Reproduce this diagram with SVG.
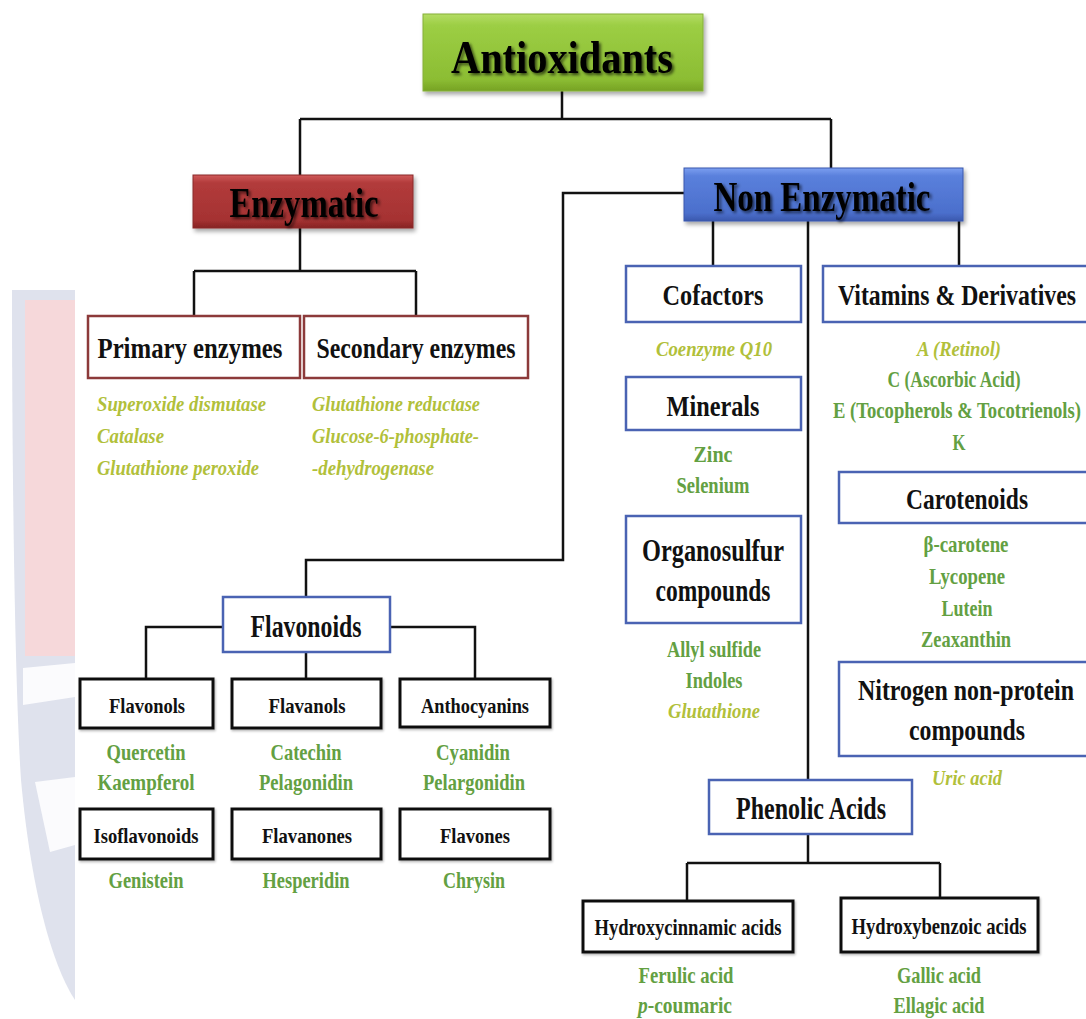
<svg xmlns="http://www.w3.org/2000/svg" width="1086" height="1019" viewBox="0 0 1086 1019">
<defs>
<linearGradient id="gGreen" x1="0" y1="0" x2="0" y2="1"><stop offset="0" stop-color="#b4dc64"/><stop offset="0.15" stop-color="#9cce44"/><stop offset="0.85" stop-color="#8cbd33"/><stop offset="1" stop-color="#76a224"/></linearGradient>
<linearGradient id="gRed" x1="0" y1="0" x2="0" y2="1"><stop offset="0" stop-color="#d05a5a"/><stop offset="0.15" stop-color="#b23b3b"/><stop offset="0.85" stop-color="#a53232"/><stop offset="1" stop-color="#862424"/></linearGradient>
<linearGradient id="gBlue" x1="0" y1="0" x2="0" y2="1"><stop offset="0" stop-color="#7c9ff0"/><stop offset="0.15" stop-color="#5a80dc"/><stop offset="0.85" stop-color="#4b6fcc"/><stop offset="1" stop-color="#3a58ad"/></linearGradient>
<filter id="bs" x="-10%" y="-20%" width="125%" height="150%"><feDropShadow dx="2" dy="3" stdDeviation="2" flood-color="#000" flood-opacity="0.35"/></filter>
<filter id="ts" x="-10%" y="-20%" width="125%" height="150%"><feDropShadow dx="2" dy="2" stdDeviation="1.8" flood-color="#000" flood-opacity="0.65"/></filter>
<filter id="ls" x="-10%" y="-20%" width="125%" height="150%"><feDropShadow dx="1" dy="1.5" stdDeviation="1" flood-color="#000" flood-opacity="0.3"/></filter>
<style>
text{font-family:"Liberation Serif","Times New Roman",serif;font-weight:bold;}
.hdr{fill:#000;filter:url(#ts);}
.lbl{fill:#111;}
.grn{fill:#63a042;font-size:23px;}
.yel{fill:#b1c03a;font-size:22px;font-style:italic;}
.bb{fill:#fff;stroke:#4a63b3;stroke-width:2.5;}
.rb{fill:#fff;stroke:#8c3a3a;stroke-width:2.5;}
.kb{fill:#fff;stroke:#111;stroke-width:3;filter:url(#ls);}
.con{fill:none;stroke:#111;stroke-width:2.5;}
</style>
</defs>
<rect width="1086" height="1019" fill="#fff"/>
<g id="watermark">
<path d="M12,290 H75 V1000 C55,970 32,900 21,780 C15,690 12,480 12,290 Z" fill="#dfe2ed"/>
<rect x="25" y="300" width="50" height="356" fill="#f6d8da"/>
<polygon points="23,668 75,663 75,697 23,705" fill="#fbfbfd"/>
<polygon points="35,782 75,777 75,845 50,852" fill="#fbfbfd"/>
</g>
<g id="connectors">
<path class="con" d="M562,91 V119 M300,119 H831 M300,119 V175 M831,119 V168" stroke-width="3"/>
<path class="con" d="M300,228 V271 M194,271 H416 M194,271 V316 M416,271 V316"/>
<path class="con" d="M684,193 H563 V560 H306 V597"/>
<path class="con" d="M713,221 V266 M808,221 V780 M959,221 V268"/>
<path class="con" d="M223,627 H146 V679 M390,627 H475 V679 M306,652 V679"/>
<path class="con" d="M808,834 V863 M687,863 H940 M687,863 V901 M940,863 V898"/>
</g>
<g id="antioxidants">
<rect x="423" y="14" width="280" height="77" fill="url(#gGreen)" stroke="#86b03a" stroke-width="1" filter="url(#bs)"/>
<text class="hdr" x="562" y="73" font-size="47" text-anchor="middle" textLength="222" lengthAdjust="spacingAndGlyphs">Antioxidants</text>
</g>
<g id="enzymatic">
<rect x="193" y="175" width="220" height="53" fill="url(#gRed)" stroke="#8a2a2a" stroke-width="1" filter="url(#bs)"/>
<text class="hdr" x="304" y="217" font-size="43" text-anchor="middle" textLength="149" lengthAdjust="spacingAndGlyphs">Enzymatic</text>
</g>
<g id="non-enzymatic">
<rect x="684" y="168" width="279" height="53" fill="url(#gBlue)" stroke="#3a58ad" stroke-width="1" filter="url(#bs)"/>
<text class="hdr" x="822" y="211" font-size="43" text-anchor="middle" textLength="217" lengthAdjust="spacingAndGlyphs">Non Enzymatic</text>
</g>
<g id="primary-enzymes">
<rect class="rb" x="88" y="316" width="212" height="62"/>
<text class="lbl" x="190" y="358" font-size="29" text-anchor="middle" textLength="185" lengthAdjust="spacingAndGlyphs">Primary enzymes</text>
<text class="yel" x="97" y="411" textLength="169" lengthAdjust="spacingAndGlyphs">Superoxide dismutase</text>
<text class="yel" x="97" y="443" textLength="67" lengthAdjust="spacingAndGlyphs">Catalase</text>
<text class="yel" x="97" y="475" textLength="162" lengthAdjust="spacingAndGlyphs">Glutathione peroxide</text>
</g>
<g id="secondary-enzymes">
<rect class="rb" x="304" y="316" width="224" height="62"/>
<text class="lbl" x="416" y="358" font-size="29" text-anchor="middle" textLength="199" lengthAdjust="spacingAndGlyphs">Secondary enzymes</text>
<text class="yel" x="312" y="411" textLength="168" lengthAdjust="spacingAndGlyphs">Glutathione reductase</text>
<text class="yel" x="312" y="443" textLength="167" lengthAdjust="spacingAndGlyphs">Glucose-6-phosphate-</text>
<text class="yel" x="312" y="475" textLength="122" lengthAdjust="spacingAndGlyphs">-dehydrogenase</text>
</g>
<g id="cofactors">
<rect class="bb" x="626" y="266" width="175" height="56"/>
<text class="lbl" x="713" y="305" font-size="30" text-anchor="middle" textLength="101" lengthAdjust="spacingAndGlyphs">Cofactors</text>
<text class="yel" x="714" y="356" text-anchor="middle" textLength="116" lengthAdjust="spacingAndGlyphs">Coenzyme Q10</text>
</g>
<g id="minerals">
<rect class="bb" x="626" y="377" width="175" height="53"/>
<text class="lbl" x="713" y="416" font-size="30" text-anchor="middle" textLength="93" lengthAdjust="spacingAndGlyphs">Minerals</text>
<text class="grn" x="713" y="462" text-anchor="middle" textLength="39" lengthAdjust="spacingAndGlyphs">Zinc</text>
<text class="grn" x="713" y="493" text-anchor="middle" textLength="73" lengthAdjust="spacingAndGlyphs">Selenium</text>
</g>
<g id="organosulfur">
<rect class="bb" x="626" y="516" width="175" height="107"/>
<text class="lbl" x="713" y="561" font-size="32" text-anchor="middle" textLength="142" lengthAdjust="spacingAndGlyphs">Organosulfur</text>
<text class="lbl" x="713" y="601" font-size="32" text-anchor="middle" textLength="115" lengthAdjust="spacingAndGlyphs">compounds</text>
<text class="grn" x="714" y="657" text-anchor="middle" textLength="94" lengthAdjust="spacingAndGlyphs">Allyl sulfide</text>
<text class="grn" x="714" y="688" text-anchor="middle" textLength="57" lengthAdjust="spacingAndGlyphs">Indoles</text>
<text class="yel" x="714" y="718" text-anchor="middle" textLength="92" lengthAdjust="spacingAndGlyphs">Glutathione</text>
</g>
<g id="vitamins">
<rect class="bb" x="823" y="266" width="270" height="56"/>
<text class="lbl" x="957" y="305" font-size="30" text-anchor="middle" textLength="238" lengthAdjust="spacingAndGlyphs">Vitamins &amp; Derivatives</text>
<text class="yel" x="959" y="356" text-anchor="middle" textLength="84" lengthAdjust="spacingAndGlyphs">A (Retinol)</text>
<text class="grn" x="954" y="387" text-anchor="middle" textLength="133" lengthAdjust="spacingAndGlyphs">C (Ascorbic Acid)</text>
<text class="grn" x="957" y="418" text-anchor="middle" textLength="248" lengthAdjust="spacingAndGlyphs">E (Tocopherols &amp; Tocotrienols)</text>
<text class="grn" x="959" y="450" text-anchor="middle" textLength="13" lengthAdjust="spacingAndGlyphs">K</text>
</g>
<g id="carotenoids">
<rect class="bb" x="839" y="472" width="254" height="51"/>
<text class="lbl" x="967" y="509" font-size="30" text-anchor="middle" textLength="122" lengthAdjust="spacingAndGlyphs">Carotenoids</text>
<text class="grn" x="966" y="552" text-anchor="middle" textLength="85" lengthAdjust="spacingAndGlyphs">β-carotene</text>
<text class="grn" x="967" y="584" text-anchor="middle" textLength="76" lengthAdjust="spacingAndGlyphs">Lycopene</text>
<text class="grn" x="967" y="616" text-anchor="middle" textLength="51" lengthAdjust="spacingAndGlyphs">Lutein</text>
<text class="grn" x="966" y="647" text-anchor="middle" textLength="90" lengthAdjust="spacingAndGlyphs">Zeaxanthin</text>
</g>
<g id="nitrogen">
<rect class="bb" x="839" y="662" width="254" height="94"/>
<text class="lbl" x="966" y="700" font-size="30" text-anchor="middle" textLength="216" lengthAdjust="spacingAndGlyphs">Nitrogen non-protein</text>
<text class="lbl" x="967" y="740" font-size="30" text-anchor="middle" textLength="116" lengthAdjust="spacingAndGlyphs">compounds</text>
<text class="yel" x="967" y="785" text-anchor="middle" textLength="70" lengthAdjust="spacingAndGlyphs">Uric acid</text>
</g>
<g id="phenolic-acids">
<rect class="bb" x="709" y="780" width="203" height="54"/>
<text class="lbl" x="811" y="819" font-size="31" text-anchor="middle" textLength="150" lengthAdjust="spacingAndGlyphs">Phenolic Acids</text>
</g>
<g id="hydroxycinnamic">
<rect class="kb" x="583" y="901" width="210" height="51"/>
<text class="lbl" x="688" y="935" font-size="23" text-anchor="middle" textLength="187" lengthAdjust="spacingAndGlyphs">Hydroxycinnamic acids</text>
<text class="grn" x="686" y="983" text-anchor="middle" textLength="95" lengthAdjust="spacingAndGlyphs">Ferulic acid</text>
<text class="grn" x="685" y="1013" text-anchor="middle" textLength="94" lengthAdjust="spacingAndGlyphs"><tspan font-style="italic">p</tspan>-coumaric</text>
</g>
<g id="hydroxybenzoic">
<rect class="kb" x="841" y="898" width="197" height="54"/>
<text class="lbl" x="939" y="934" font-size="23" text-anchor="middle" textLength="175" lengthAdjust="spacingAndGlyphs">Hydroxybenzoic acids</text>
<text class="grn" x="939" y="983" text-anchor="middle" textLength="84" lengthAdjust="spacingAndGlyphs">Gallic acid</text>
<text class="grn" x="939" y="1013" text-anchor="middle" textLength="91" lengthAdjust="spacingAndGlyphs">Ellagic acid</text>
</g>
<g id="flavonoids">
<rect class="bb" x="223" y="597" width="167" height="55"/>
<text class="lbl" x="306" y="637" font-size="32" text-anchor="middle" textLength="111" lengthAdjust="spacingAndGlyphs">Flavonoids</text>
</g>
<g id="flavonols">
<rect class="kb" x="80" y="679" width="133" height="49"/>
<text class="lbl" x="147" y="713" font-size="22" text-anchor="middle" textLength="76" lengthAdjust="spacingAndGlyphs">Flavonols</text>
<text class="grn" x="146" y="760" text-anchor="middle" textLength="79" lengthAdjust="spacingAndGlyphs">Quercetin</text>
<text class="grn" x="146" y="790" text-anchor="middle" textLength="97" lengthAdjust="spacingAndGlyphs">Kaempferol</text>
</g>
<g id="flavanols">
<rect class="kb" x="232" y="679" width="149" height="49"/>
<text class="lbl" x="307" y="713" font-size="22" text-anchor="middle" textLength="77" lengthAdjust="spacingAndGlyphs">Flavanols</text>
<text class="grn" x="306" y="760" text-anchor="middle" textLength="71" lengthAdjust="spacingAndGlyphs">Catechin</text>
<text class="grn" x="306" y="790" text-anchor="middle" textLength="94" lengthAdjust="spacingAndGlyphs">Pelagonidin</text>
</g>
<g id="anthocyanins">
<rect class="kb" x="400" y="679" width="150" height="48"/>
<text class="lbl" x="475" y="713" font-size="22" text-anchor="middle" textLength="108" lengthAdjust="spacingAndGlyphs">Anthocyanins</text>
<text class="grn" x="473" y="760" text-anchor="middle" textLength="74" lengthAdjust="spacingAndGlyphs">Cyanidin</text>
<text class="grn" x="474" y="790" text-anchor="middle" textLength="102" lengthAdjust="spacingAndGlyphs">Pelargonidin</text>
</g>
<g id="isoflavonoids">
<rect class="kb" x="80" y="809" width="133" height="50"/>
<text class="lbl" x="146" y="843" font-size="22" text-anchor="middle" textLength="105" lengthAdjust="spacingAndGlyphs">Isoflavonoids</text>
<text class="grn" x="146" y="888" text-anchor="middle" textLength="75" lengthAdjust="spacingAndGlyphs">Genistein</text>
</g>
<g id="flavanones">
<rect class="kb" x="232" y="809" width="149" height="50"/>
<text class="lbl" x="307" y="843" font-size="22" text-anchor="middle" textLength="90" lengthAdjust="spacingAndGlyphs">Flavanones</text>
<text class="grn" x="306" y="888" text-anchor="middle" textLength="87" lengthAdjust="spacingAndGlyphs">Hesperidin</text>
</g>
<g id="flavones">
<rect class="kb" x="400" y="809" width="150" height="50"/>
<text class="lbl" x="475" y="843" font-size="22" text-anchor="middle" textLength="70" lengthAdjust="spacingAndGlyphs">Flavones</text>
<text class="grn" x="474" y="888" text-anchor="middle" textLength="62" lengthAdjust="spacingAndGlyphs">Chrysin</text>
</g>
</svg>
